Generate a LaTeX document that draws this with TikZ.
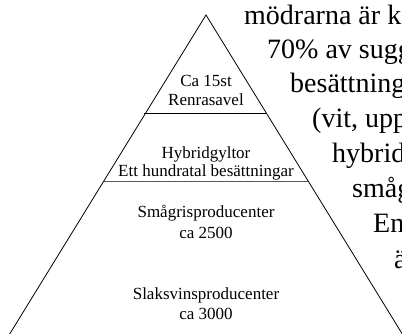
\documentclass[tikz,border=0pt]{standalone}
\usepackage{fontspec}
\setmainfont{Liberation Serif}
\usetikzlibrary{positioning}

\tikzset{
  lbl/.style={anchor=base, inner sep=0pt, font=\fontsize{17}{20}\selectfont},
  bigtxt/.style={anchor=base west, inner sep=0pt, font=\fontsize{28}{34}\selectfont},
}

\begin{document}
\begin{tikzpicture}[x=1pt, y=-1pt]
    \useasboundingbox (0,0) rectangle (402,334);
    \clip (0,0) rectangle (402,334);

    % pyramid
    \coordinate (apex) at (206,15);
    \coordinate (botl) at (6,340);
    \coordinate (botr) at (406,340);
    \coordinate (l1a) at (144,113);
    \coordinate (l1b) at (266,113);
    \coordinate (l2a) at (104,181);
    \coordinate (l2b) at (308,181);

    \draw[line width=0.8pt] (botl) -- (apex) -- (botr);
    \draw[line width=0.9pt] (l1a) -- (l1b);
    \draw[line width=0.9pt, black!65] (l2a) -- (l2b);

    \node (avel1) [lbl] at (206,87) {Ca 15st};
    \node (avel2) [lbl, below=19pt of avel1.base, anchor=base] {Renrasavel};
    \node (gylt1) [lbl] at (206,159) {Hybridgyltor};
    \node (gylt2) [lbl, below=18pt of gylt1.base, anchor=base] {Ett hundratal besättningar};
    \node (smag1) [lbl] at (206,218) {Smågrisproducenter};
    \node (smag2) [lbl, below=20pt of smag1.base, anchor=base] {ca 2500};
    \node (slak1) [lbl] at (206,299) {Slaksvinsproducenter};
    \node (slak2) [lbl, below=20pt of slak1.base, anchor=base] {ca 3000};

    % text beside the pyramid
    \node (t1) [bigtxt] at (244,25) {mödrarna är k};
    \node (t2) [bigtxt] at (267,59) {70\% av sugg};
    \node (t3) [bigtxt] at (290,93) {besättning};
    \node (t4) [bigtxt] at (312,128) {(vit, upp};
    \node (t5) [bigtxt] at (332,163) {hybrid};
    \node (t6) [bigtxt] at (352,198) {småg};
    \node (t7) [bigtxt] at (373,233) {En};
    \node (t8) [bigtxt] at (394,268) {ä};

\end{tikzpicture}
\end{document}
